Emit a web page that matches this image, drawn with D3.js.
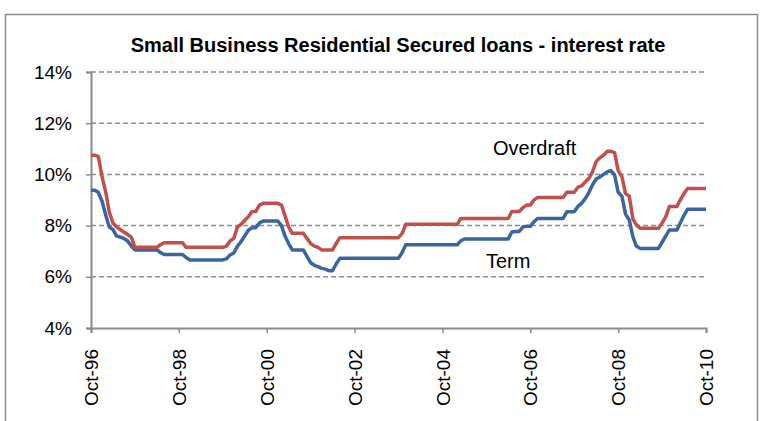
<!DOCTYPE html>
<html>
<head>
<meta charset="utf-8">
<script src="https://cdn.jsdelivr.net/npm/d3@7"></script>
<style>
  html, body { margin: 0; padding: 0; background: #fff; }
  svg { display: block; font-family: "Liberation Sans", Arial, sans-serif; }
</style>
</head>
<body>
<svg id="chart" width="765" height="421"></svg>
<script>
// Monthly series, Oct-96 through Oct-10 (169 months)
const firstMonth = new Date(1996, 9, 1);
const lastMonth = new Date(2010, 9, 1);

// Overdraft rate, % p.a.
const overdraft = [
  10.75, 10.75, 10.7, 9.9, 9.3, 8.55, 8.1, 7.95, 7.85, 7.75, 7.65, 7.55,
  7.15, 7.15, 7.15, 7.15, 7.15, 7.15, 7.15, 7.25, 7.33, 7.33, 7.33, 7.33,
  7.33, 7.33, 7.15, 7.15, 7.15, 7.15, 7.15, 7.15, 7.15, 7.15, 7.15, 7.15,
  7.15, 7.2, 7.4, 7.5, 7.95, 8.05, 8.2, 8.35, 8.55, 8.55, 8.8, 8.87,
  8.87, 8.87, 8.87, 8.87, 8.8, 8.4, 7.95, 7.7, 7.7, 7.7, 7.7, 7.5,
  7.3, 7.2, 7.15, 7.05, 7.05, 7.05, 7.05, 7.3, 7.53, 7.53, 7.53, 7.53,
  7.53, 7.53, 7.53, 7.53, 7.53, 7.53, 7.53, 7.53, 7.53, 7.53, 7.53, 7.53,
  7.53, 7.7, 8.05, 8.05, 8.05, 8.05, 8.05, 8.05, 8.05, 8.05, 8.05, 8.05,
  8.05, 8.05, 8.05, 8.05, 8.05, 8.28, 8.28, 8.28, 8.28, 8.28, 8.28, 8.28,
  8.28, 8.28, 8.28, 8.28, 8.28, 8.28, 8.28, 8.55, 8.55, 8.55, 8.7, 8.8,
  8.8, 9.0, 9.1, 9.1, 9.1, 9.1, 9.1, 9.1, 9.1, 9.1, 9.3, 9.3,
  9.3, 9.5, 9.55, 9.7, 9.85, 10.1, 10.5, 10.65, 10.75, 10.9, 10.9, 10.85,
  10.15, 9.9, 9.25, 9.15, 8.25, 8.03, 7.9, 7.9, 7.9, 7.9, 7.9, 7.9,
  8.1, 8.35, 8.75, 8.75, 8.75, 9.0, 9.25, 9.45, 9.45, 9.45, 9.45, 9.45,
  9.45
];

// Term loan rate, % p.a.
const term = [
  9.38, 9.38, 9.3, 8.95, 8.4, 7.95, 7.85, 7.6, 7.55, 7.5, 7.4, 7.2,
  7.05, 7.05, 7.05, 7.05, 7.05, 7.05, 7.05, 6.95, 6.87, 6.87, 6.87, 6.87,
  6.87, 6.87, 6.75, 6.66, 6.66, 6.66, 6.66, 6.66, 6.66, 6.66, 6.66, 6.66,
  6.66, 6.7, 6.85, 6.93, 7.2, 7.37, 7.6, 7.82, 7.92, 7.92, 8.1, 8.18,
  8.18, 8.18, 8.18, 8.18, 8.0, 7.6, 7.3, 7.05, 7.05, 7.05, 7.05, 6.8,
  6.55, 6.45, 6.4, 6.33, 6.3, 6.24, 6.24, 6.5, 6.72, 6.72, 6.72, 6.72,
  6.72, 6.72, 6.72, 6.72, 6.72, 6.72, 6.72, 6.72, 6.72, 6.72, 6.72, 6.72,
  6.72, 6.95, 7.25, 7.25, 7.25, 7.25, 7.25, 7.25, 7.25, 7.25, 7.25, 7.25,
  7.25, 7.25, 7.25, 7.25, 7.25, 7.4, 7.48, 7.48, 7.48, 7.48, 7.48, 7.48,
  7.48, 7.48, 7.48, 7.48, 7.48, 7.48, 7.48, 7.75, 7.77, 7.77, 7.95, 7.97,
  7.97, 8.15, 8.28, 8.28, 8.28, 8.28, 8.28, 8.28, 8.28, 8.28, 8.54, 8.54,
  8.54, 8.75, 8.87, 9.05, 9.3, 9.59, 9.82, 9.9, 10.0, 10.1, 10.15, 9.98,
  9.3, 9.15, 8.45, 8.22, 7.55, 7.2, 7.11, 7.11, 7.11, 7.11, 7.11, 7.11,
  7.35, 7.6, 7.83, 7.83, 7.83, 8.1, 8.4, 8.64, 8.64, 8.64, 8.64, 8.64,
  8.64
];

const yTicks = [4, 6, 8, 10, 12, 14];
const xTickLabels = ["Oct-96", "Oct-98", "Oct-00", "Oct-02", "Oct-04", "Oct-06", "Oct-08", "Oct-10"];

const months = d3.timeMonth.range(firstMonth, d3.timeMonth.offset(lastMonth, 1));
// one labelled tick every two years, starting at the first month
const xTickDates = xTickLabels.map((_, i) => d3.timeMonth.offset(firstMonth, 24 * i));

const svg = d3.select("#chart");
const plot = { left: 91, right: 706, top: 72, bottom: 328 };

const x = d3.scaleTime().domain([firstMonth, lastMonth]).range([plot.left, plot.right]);
const y = d3.scaleLinear().domain([4, 14]).range([plot.bottom, plot.top]);

// chart frame
svg.append("rect")
  .attr("x", 5.5).attr("y", 14.5)
  .attr("width", 752).attr("height", 440)
  .attr("fill", "none").attr("stroke", "#8a8a8a").attr("stroke-width", 1.5);

// title
svg.append("text")
  .attr("x", 398).attr("y", 52)
  .attr("text-anchor", "middle")
  .attr("font-size", 20).attr("font-weight", "bold")
  .attr("fill", "#000")
  .text("Small Business Residential Secured loans - interest rate");

// dashed gridlines
svg.append("g").selectAll("line")
  .data(yTicks.filter(d => d > 4))
  .join("line")
  .attr("x1", plot.left).attr("x2", plot.right)
  .attr("y1", d => y(d)).attr("y2", d => y(d))
  .attr("stroke", "#8c8c8c").attr("stroke-width", 1.5)
  .attr("stroke-dasharray", "5,3");

// y axis
const yAxis = svg.append("g")
  .attr("transform", `translate(${plot.left},0)`)
  .call(d3.axisLeft(y).tickValues(yTicks).tickSize(5).tickPadding(14)
    .tickFormat(d => d + "%"));
yAxis.select(".domain").attr("stroke", "#8a8a8a").attr("stroke-width", 2);
yAxis.selectAll(".tick line").attr("stroke", "#8a8a8a").attr("stroke-width", 1.5);
yAxis.selectAll(".tick text")
  .attr("font-size", 19).attr("fill", "#000")
  .attr("font-family", "Liberation Sans, Arial, sans-serif");

// x axis
const xAxis = svg.append("g")
  .attr("transform", `translate(0,${plot.bottom})`)
  .call(d3.axisBottom(x).tickValues(xTickDates).tickSize(5)
    .tickFormat((d, i) => xTickLabels[i]));
xAxis.select(".domain").attr("stroke", "#8a8a8a").attr("stroke-width", 2);
xAxis.selectAll(".tick line").attr("stroke", "#8a8a8a").attr("stroke-width", 1.5);
xAxis.selectAll(".tick text")
  .attr("font-size", 19).attr("fill", "#000")
  .attr("font-family", "Liberation Sans, Arial, sans-serif")
  .attr("text-anchor", "end")
  .attr("transform", "rotate(-90)")
  .attr("x", -21).attr("y", 0).attr("dy", "0.35em");

// series lines
const line = d3.line().x((d, i) => x(months[i])).y(d => y(d));

svg.append("path")
  .datum(term)
  .attr("d", line)
  .attr("fill", "none").attr("stroke", "#3a65a0")
  .attr("stroke-width", 3.5).attr("stroke-linejoin", "round");

svg.append("path")
  .datum(overdraft)
  .attr("d", line)
  .attr("fill", "none").attr("stroke", "#c0504d")
  .attr("stroke-width", 3.5).attr("stroke-linejoin", "round");

// series labels
svg.append("text")
  .attr("x", 493).attr("y", 155)
  .attr("font-size", 20).attr("fill", "#000")
  .text("Overdraft");
svg.append("text")
  .attr("x", 486).attr("y", 268)
  .attr("font-size", 20).attr("fill", "#000")
  .text("Term");
</script>
</body>
</html>
